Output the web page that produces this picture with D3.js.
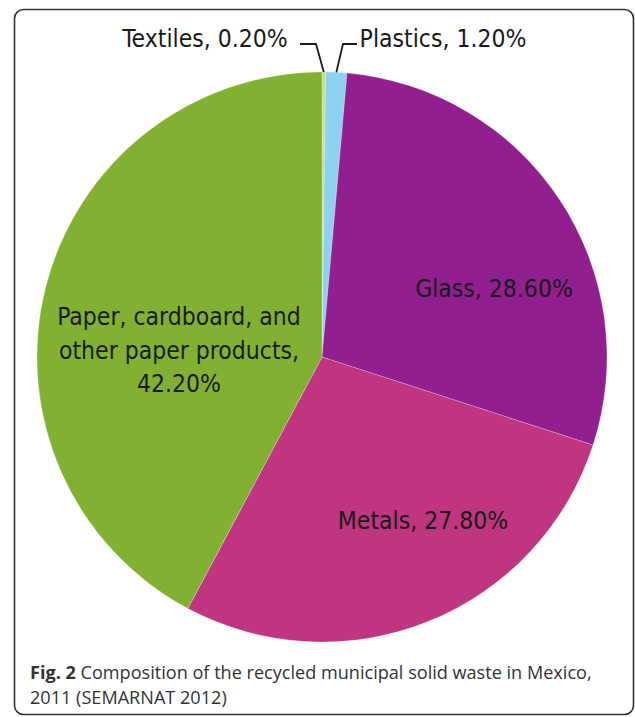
<!DOCTYPE html>
<html>
<head>
<meta charset="utf-8">
<title>Recycled municipal solid waste, Mexico 2011</title>
<script src="https://cdn.jsdelivr.net/npm/d3@7"></script>
<style>
  body { margin: 0; background: #fff; }
  svg { display: block; }
  .lbl { font-family: "Liberation Sans Narrow", "DejaVu Sans Condensed", sans-serif; font-size: 24.5px; fill: #1a1a1a; }
  .cap { font-family: "Open Sans", "Noto Sans", sans-serif; font-size: 18.1px; fill: #333; }
</style>
</head>
<body>
<svg id="chart" width="635" height="717"></svg>
<script>
// data, clockwise from 12 o'clock
const categories = ["Textiles", "Plastics", "Glass", "Metals", "Paper, cardboard, and other paper products"];
const shares = [0.2, 1.2, 28.6, 27.8, 42.2];
const colors = ["#c8e07c", "#8dd1f0", "#911f8f", "#bf3580", "#82b132"];

const svg = d3.select("#chart");
const cx = 322, cy = 357, r = 285;

// frame around figure
svg.append("rect")
    .attr("x", 14.5).attr("y", 9.5)
    .attr("width", 619).attr("height", 705)
    .attr("rx", 9)
    .attr("fill", "none")
    .attr("stroke", "#333")
    .attr("stroke-width", 1.6);

const pie = d3.pie().sort(null).value(d => d.v);
const arcs = pie(categories.map((c, i) => ({name: c, v: shares[i], color: colors[i]})));
const arc = d3.arc().innerRadius(0).outerRadius(r);

const g = svg.append("g").attr("transform", `translate(${cx},${cy})`);
g.selectAll("path")
    .data(arcs)
    .join("path")
    .attr("d", arc)
    .attr("fill", d => d.data.color)
    .attr("stroke", "#fff")
    .attr("stroke-width", 0.4)
    .attr("stroke-opacity", 0.6);

// leader lines for the small slices
const lineFn = d3.line();
const edge = d => { const a = (d.startAngle + d.endAngle) / 2; return [cx + r * Math.sin(a), cy - r * Math.cos(a)]; };
const leaders = [
    [[300, 44], [316, 44], edge(arcs[0])],
    [[357, 44], [343, 44], edge(arcs[1])]
];
svg.selectAll("path.leader")
    .data(leaders)
    .join("path")
    .attr("class", "leader")
    .attr("d", lineFn)
    .attr("fill", "none")
    .attr("stroke", "#1a1a1a")
    .attr("stroke-width", 1.8);

const labels = [
    {lines: ["Textiles, 0.20%"], x: 205, y: 47},
    {lines: ["Plastics, 1.20%"], x: 443, y: 47},
    {lines: ["Glass, 28.60%"], x: 494, y: 297},
    {lines: ["Metals, 27.80%"], x: 423, y: 529},
    {lines: ["Paper, cardboard, and", "other paper products,", "42.20%"], x: 179, y: 325}
];
labels.forEach(l => {
    const t = svg.append("text").attr("class", "lbl").attr("text-anchor", "middle");
    l.lines.forEach((s, i) => {
        t.append("tspan").attr("x", l.x).attr("y", l.y + i * 33.5).text(s);
    });
});

// caption
const cap = svg.append("text").attr("class", "cap").attr("x", 30).attr("y", 679);
cap.append("tspan").attr("font-weight", "bold").text("Fig. 2");
cap.append("tspan").text(" Composition of the recycled municipal solid waste in Mexico,");
svg.append("text").attr("class", "cap").attr("x", 30).attr("y", 704).text("2011 (SEMARNAT 2012)");
</script>
</body>
</html>
